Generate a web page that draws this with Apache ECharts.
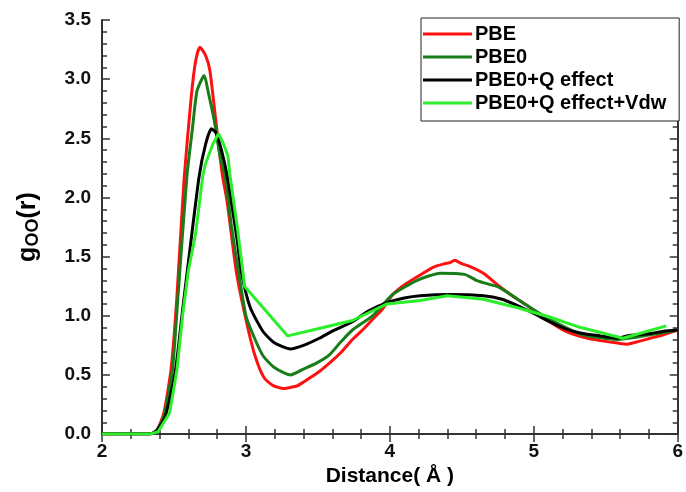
<!DOCTYPE html>
<html><head><meta charset="utf-8">
<script src="https://cdn.jsdelivr.net/npm/echarts@6/dist/echarts.min.js"></script>
<style>html,body{margin:0;padding:0;background:#fff}#c{width:686px;height:492px}</style>
</head><body><div id="c"></div>
<script>
var seriesNames = ['PBE', 'PBE0', 'PBE0+Q effect', 'PBE0+Q effect+Vdw'];
var xTicks = [2, 3, 4, 5, 6];
var yTicks = [0, 0.5, 1.0, 1.5, 2.0, 2.5, 3.0, 3.5];

var pbeX = [2.0, 2.33, 2.38, 2.43, 2.48, 2.52, 2.57, 2.62, 2.65, 2.68, 2.72, 2.75, 2.80, 2.835, 2.87, 2.935, 3.03, 3.08, 3.13, 3.19, 3.26, 3.33, 3.36, 3.40, 3.50, 3.58, 3.66, 3.74, 3.81, 3.88, 3.95, 4.02, 4.10, 4.19, 4.30, 4.38, 4.42, 4.45, 4.50, 4.55, 4.65, 4.76, 4.85, 4.95, 5.03, 5.11, 5.22, 5.34, 5.46, 5.58, 5.65, 5.72, 5.81, 5.90, 6.0];
var pbeY = [0, 0, 0.03, 0.18, 0.55, 1.15, 2.15, 2.85, 3.15, 3.27, 3.20, 3.07, 2.55, 2.20, 1.96, 1.36, 0.81, 0.60, 0.47, 0.41, 0.385, 0.40, 0.41, 0.44, 0.52, 0.60, 0.69, 0.80, 0.88, 0.97, 1.06, 1.18, 1.26, 1.33, 1.41, 1.44, 1.45, 1.47, 1.44, 1.42, 1.36, 1.25, 1.17, 1.09, 1.02, 0.95, 0.87, 0.82, 0.79, 0.77, 0.76, 0.78, 0.81, 0.84, 0.88];

var pbe0X = [2.0, 2.33, 2.38, 2.43, 2.49, 2.53, 2.59, 2.63, 2.66, 2.71, 2.74, 2.78, 2.82, 2.855, 2.90, 2.95, 3.0, 3.06, 3.12, 3.20, 3.31, 3.40, 3.49, 3.58, 3.66, 3.74, 3.88, 4.02, 4.19, 4.35, 4.52, 4.60, 4.65, 4.76, 4.95, 5.11, 5.34, 5.58, 5.81, 6.0];
var pbe0Y = [0, 0, 0.03, 0.15, 0.55, 1.20, 2.18, 2.60, 2.90, 3.03, 2.88, 2.65, 2.35, 2.18, 1.75, 1.36, 1.00, 0.81, 0.66, 0.56, 0.50, 0.55, 0.60, 0.67, 0.78, 0.88, 1.00, 1.18, 1.30, 1.36, 1.35, 1.30, 1.28, 1.24, 1.09, 0.97, 0.84, 0.80, 0.84, 0.88];

var qX = [2.0, 2.33, 2.38, 2.44, 2.51, 2.56, 2.61, 2.675, 2.72, 2.76, 2.79, 2.83, 2.87, 2.94, 2.97, 3.03, 3.12, 3.20, 3.31, 3.40, 3.51, 3.60, 3.74, 3.85, 3.98, 4.10, 4.21, 4.42, 4.65, 4.78, 4.88, 5.00, 5.11, 5.22, 5.34, 5.46, 5.58, 5.65, 5.81, 5.90, 6.0];
var qY = [0, 0, 0.03, 0.15, 0.535, 1.05, 1.55, 2.18, 2.45, 2.58, 2.55, 2.40, 2.18, 1.63, 1.36, 1.07, 0.865, 0.77, 0.72, 0.75, 0.81, 0.87, 0.95, 1.04, 1.11, 1.15, 1.17, 1.18, 1.17, 1.14, 1.09, 1.02, 0.95, 0.89, 0.85, 0.83, 0.81, 0.83, 0.85, 0.87, 0.88];

var vdwX = [2.0, 2.33, 2.39, 2.47, 2.52, 2.56, 2.60, 2.65, 2.70, 2.72, 2.77, 2.81, 2.845, 2.875, 2.89, 2.94, 2.98, 2.99, 3.29, 3.50, 3.74, 3.98, 4.21, 4.40, 4.65, 4.88, 5.11, 5.30, 5.62, 5.92];
var vdwY = [0, 0, 0.02, 0.18, 0.535, 1.00, 1.38, 1.69, 2.18, 2.29, 2.45, 2.54, 2.45, 2.35, 2.18, 1.75, 1.36, 1.25, 0.83, 0.89, 0.96, 1.10, 1.13, 1.17, 1.14, 1.07, 0.99, 0.91, 0.81, 0.915];

function pairs(xs, ys) { return xs.map(function (x, i) { return [x, ys[i]]; }); }

var colors = ['#ff1010', '#187c18', '#000000', '#2aef2a'];
var dataSets = [pairs(pbeX, pbeY), pairs(pbe0X, pbe0Y), pairs(qX, qY), pairs(vdwX, vdwY)];
var smoothVals = [0.2, 0.2, 0.2, false];

var axisLineStyle = { color: '#333', width: 2 };
var FONT = 'Arial, "Liberation Sans", sans-serif';
var tickStyle = { color: '#333', width: 1.5 };

var chart = echarts.init(document.getElementById('c'), null, { renderer: 'canvas' });
chart.setOption({
  animation: false,
  backgroundColor: '#fff',
  grid: { left: 102, right: 7, top: 20, bottom: 47 },
  legend: {
    orient: 'vertical',
    left: 421, top: 18,
    data: seriesNames,
    icon: 'rect',
    itemWidth: 49, itemHeight: 3,
    itemGap: 3,
    padding: [6, 13, 8, 2],
    backgroundColor: '#fff',
    borderColor: '#222', borderWidth: 1,
    textStyle: { fontFamily: FONT, fontWeight: 'bold', fontSize: 20, color: '#000', lineHeight: 20, padding: [0, 0, 0, -2] }
  },
  xAxis: [{
    type: 'value', min: xTicks[0], max: xTicks[xTicks.length - 1], interval: 1,
    name: 'Distance( Å )', nameLocation: 'middle', nameGap: 11,
    nameTextStyle: { fontFamily: FONT, fontWeight: 'bold', fontSize: 21, color: '#000' },
    axisLine: { show: true, lineStyle: axisLineStyle },
    axisTick: { inside: true, length: 8, lineStyle: tickStyle },
    minorTick: { show: true, splitNumber: 5, length: 5, lineStyle: tickStyle },
    axisLabel: { margin: 8, fontFamily: FONT, fontWeight: 'bold', fontSize: 19, color: '#111' },
    splitLine: { show: false }
  }, {
    type: 'value', position: 'top', min: xTicks[0], max: xTicks[xTicks.length - 1], interval: 1,
    axisLine: { show: true, lineStyle: axisLineStyle },
    axisTick: { inside: true, length: 8, lineStyle: tickStyle },
    minorTick: { show: true, splitNumber: 5, length: 5, lineStyle: tickStyle },
    axisLabel: { show: false }, splitLine: { show: false }
  }],
  yAxis: [{
    type: 'value', min: yTicks[0], max: yTicks[yTicks.length - 1], interval: 0.5,
    name: '{g|g}{s|OO}{g|(r)}', nameLocation: 'middle', nameGap: 60, nameRotate: 90,
    nameTextStyle: {
      rich: {
        g: { fontFamily: FONT, fontWeight: 'bold', fontSize: 25, color: '#000', lineHeight: 28 },
        s: { fontFamily: FONT, fontWeight: 'bold', fontSize: 18, color: '#000', lineHeight: 12, verticalAlign: 'bottom' }
      }
    },
    axisLine: { show: true, lineStyle: axisLineStyle },
    axisTick: { inside: true, length: 8, lineStyle: tickStyle },
    minorTick: { show: true, splitNumber: 5, length: 5, lineStyle: tickStyle },
    axisLabel: { margin: 11, fontFamily: FONT, fontWeight: 'bold', fontSize: 19, color: '#111',
      formatter: function (v) { return v.toFixed(1); } },
    splitLine: { show: false }
  }, {
    type: 'value', position: 'right', min: yTicks[0], max: yTicks[yTicks.length - 1], interval: 0.5,
    axisLine: { show: true, lineStyle: axisLineStyle },
    axisTick: { inside: true, length: 8, lineStyle: tickStyle },
    minorTick: { show: true, splitNumber: 5, length: 5, lineStyle: tickStyle },
    axisLabel: { show: false }, splitLine: { show: false }
  }],
  series: seriesNames.map(function (n, i) {
    return {
      name: n, type: 'line', data: dataSets[i],
      xAxisIndex: 0, yAxisIndex: 0,
      showSymbol: false, symbol: 'none',
      smooth: smoothVals[i],
      color: colors[i],
      lineStyle: { color: colors[i], width: 3 },
      itemStyle: { color: colors[i] },
      z: 2 + i
    };
  })
});
</script>
</body></html>
